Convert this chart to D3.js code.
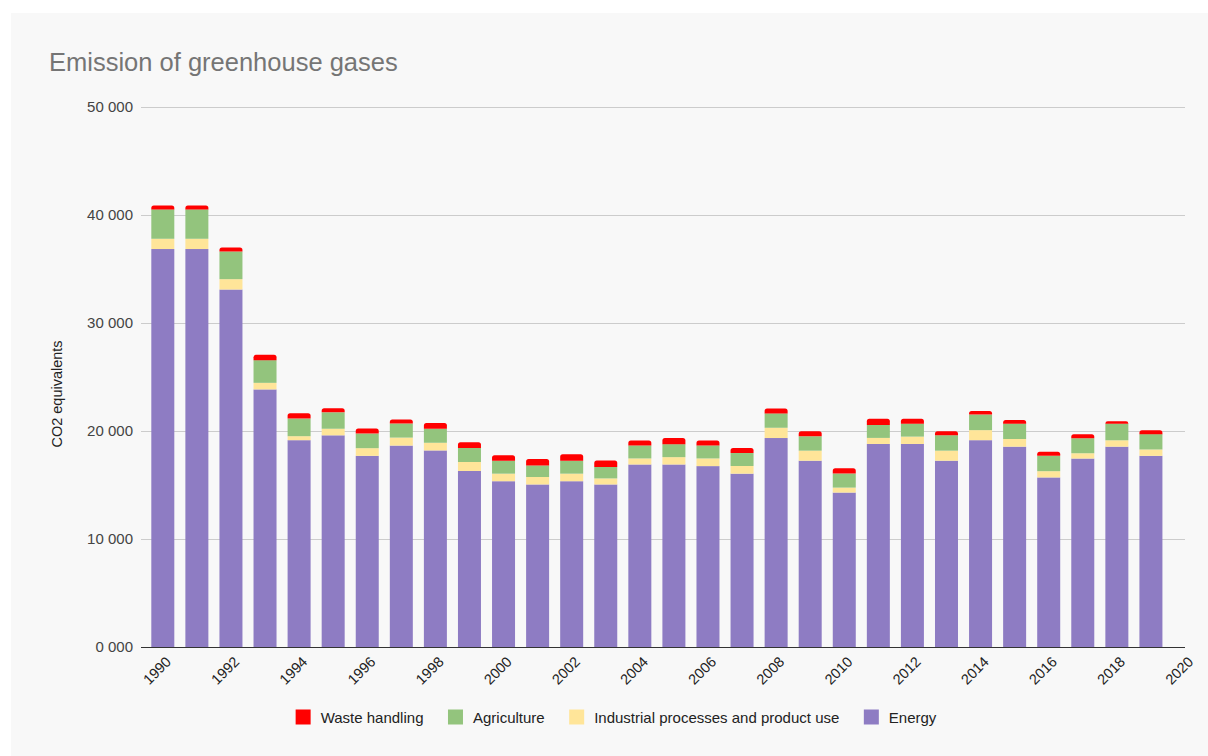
<!DOCTYPE html>
<html>
<head>
<meta charset="utf-8">
<script src="https://cdn.jsdelivr.net/npm/d3@7"></script>
<style>
  html, body { margin: 0; padding: 0; background: #ffffff; }
  svg { display: block; font-family: Arial, "Liberation Sans", sans-serif; }
</style>
</head>
<body>
<svg id="chart" width="1208" height="756"></svg>
<script>
const years = [1990,1991,1992,1993,1994,1995,1996,1997,1998,1999,2000,2001,2002,2003,2004,2005,2006,2007,2008,2009,2010,2011,2012,2013,2014,2015,2016,2017,2018,2019];
const energy = [36850,36850,33100,23850,19150,19600,17700,18650,18200,16300,15350,15050,15350,15050,16900,16900,16750,16050,19350,17250,14300,18800,18800,17250,19150,18550,15700,17450,18550,17700];
const industry = [950,950,960,610,370,610,710,740,710,830,700,690,700,560,560,680,710,710,950,930,460,560,680,930,930,710,580,490,590,590];
const agriculture = [2720,2720,2560,2100,1630,1520,1350,1300,1300,1300,1200,1070,1200,1060,1200,1200,1200,1200,1330,1330,1300,1200,1200,1430,1440,1420,1420,1390,1540,1420];
const waste = [370,370,370,490,500,370,460,370,530,530,500,590,590,610,460,580,460,460,460,460,500,580,460,370,340,340,370,370,220,370];
const seriesNames = ["Energy","Industrial processes and product use","Agriculture","Waste handling"];
const legendOrder = ["Waste handling","Agriculture","Industrial processes and product use","Energy"];
const xTicks = [1990,1992,1994,1996,1998,2000,2002,2004,2006,2008,2010,2012,2014,2016,2018,2020];
const xTickLabels = ["1990","1992","1994","1996","1998","2000","2002","2004","2006","2008","2010","2012","2014","2016","2018","2020"];
const yTicks = [0,10000,20000,30000,40000,50000];
const yTickLabels = ["0 000","10 000","20 000","30 000","40 000","50 000"];
const titleText = "Emission of greenhouse gases";
const yTitle = "CO2 equivalents";

const colors = {
  "Energy": "#8e7cc3",
  "Industrial processes and product use": "#ffe599",
  "Agriculture": "#93c47d",
  "Waste handling": "#ff0000"
};

const FONT = "Arial, 'Liberation Sans', sans-serif";
const svg = d3.select("#chart");
// card background
svg.append("rect").attr("x", 11).attr("y", 13).attr("width", 1197).attr("height", 743).attr("fill", "#f8f8f8");

const plotL = 141, plotR = 1185, plotT = 107, plotB = 647;
const x = d3.scaleLinear().domain([1989.36, 2020]).range([plotL, plotR]);
const y = d3.scaleLinear().domain([0, 50000]).range([plotB, plotT]);
const barW = 23;

// title
svg.append("text").attr("x", 49).attr("y", 71).attr("font-size", 25.5).attr("fill", "#757575").text(titleText);

// gridlines + y axis
const yAxis = d3.axisLeft(y).tickValues(yTicks).tickSize(-(plotR - plotL)).tickPadding(8)
  .tickFormat((d, i) => yTickLabels[i]);
const gy = svg.append("g").attr("transform", `translate(${plotL},0)`).call(yAxis);
gy.select(".domain").remove();
gy.selectAll(".tick line").attr("stroke", "#cccccc").attr("stroke-width", 1);
gy.selectAll(".tick text").attr("font-size", 15).attr("fill", "#444444").attr("font-family", FONT);

// y title
svg.append("text").attr("transform", `translate(62,394) rotate(-90)`).attr("text-anchor", "middle")
  .attr("font-size", 14.5).attr("fill", "#222222").text(yTitle);

// stack
const rows = years.map((yr, i) => ({
  year: yr,
  "Energy": energy[i],
  "Industrial processes and product use": industry[i],
  "Agriculture": agriculture[i],
  "Waste handling": waste[i]
}));
const stacked = d3.stack().keys(seriesNames)(rows);

const gBars = svg.append("g");
stacked.forEach(layer => {
  const key = layer.key;
  if (key !== "Waste handling") {
    gBars.selectAll(null).data(layer).enter().append("rect")
      .attr("x", d => x(d.data.year) - barW / 2)
      .attr("y", d => y(d[1]))
      .attr("width", barW)
      .attr("height", d => y(d[0]) - y(d[1]))
      .attr("fill", colors[key]);
  } else {
    gBars.selectAll(null).data(layer).enter().append("path")
      .attr("d", d => {
        const x0 = x(d.data.year) - barW / 2, x1 = x0 + barW;
        const yt = y(d[1]), yb = y(d[0]);
        const r = Math.min(2.5, (yb - yt));
        return `M${x0},${yb}L${x0},${yt + r}Q${x0},${yt} ${x0 + r},${yt}L${x1 - r},${yt}Q${x1},${yt} ${x1},${yt + r}L${x1},${yb}Z`;
      })
      .attr("fill", colors[key]);
  }
});

// baseline
svg.append("line").attr("x1", plotL).attr("x2", plotR).attr("y1", plotB + 0.5).attr("y2", plotB + 0.5)
  .attr("stroke", "#333333").attr("stroke-width", 1);

// x axis
const xAxis = d3.axisBottom(x).tickValues(xTicks).tickSize(0).tickPadding(0)
  .tickFormat((d, i) => xTickLabels[i]);
const gx = svg.append("g").attr("transform", `translate(0,${plotB})`).call(xAxis);
gx.select(".domain").remove();
gx.selectAll(".tick text")
  .attr("font-size", 14.5).attr("fill", "#222222").attr("font-family", FONT)
  .attr("text-anchor", "end").attr("dy", null).attr("y", 0)
  .attr("transform", "translate(6,13) rotate(-45)")
  .attr("dominant-baseline", "middle");

// legend
const legend = svg.append("g");
let lx = 0;
const gap = 24.5;
legendOrder.forEach(name => {
  const g = legend.append("g");
  g.append("rect").attr("x", 0).attr("y", -7.5).attr("width", 15).attr("height", 15).attr("fill", colors[name]);
  const t = g.append("text").attr("x", 25).attr("y", 0).attr("dominant-baseline", "central")
    .attr("font-size", 15).attr("fill", "#222222").text(name);
  const w = 25 + t.node().getComputedTextLength();
  g.attr("transform", `translate(${lx},0)`);
  lx += w + gap;
});
const totalW = lx - gap;
legend.attr("transform", `translate(${616 - totalW / 2},717)`);
</script>
</body>
</html>
